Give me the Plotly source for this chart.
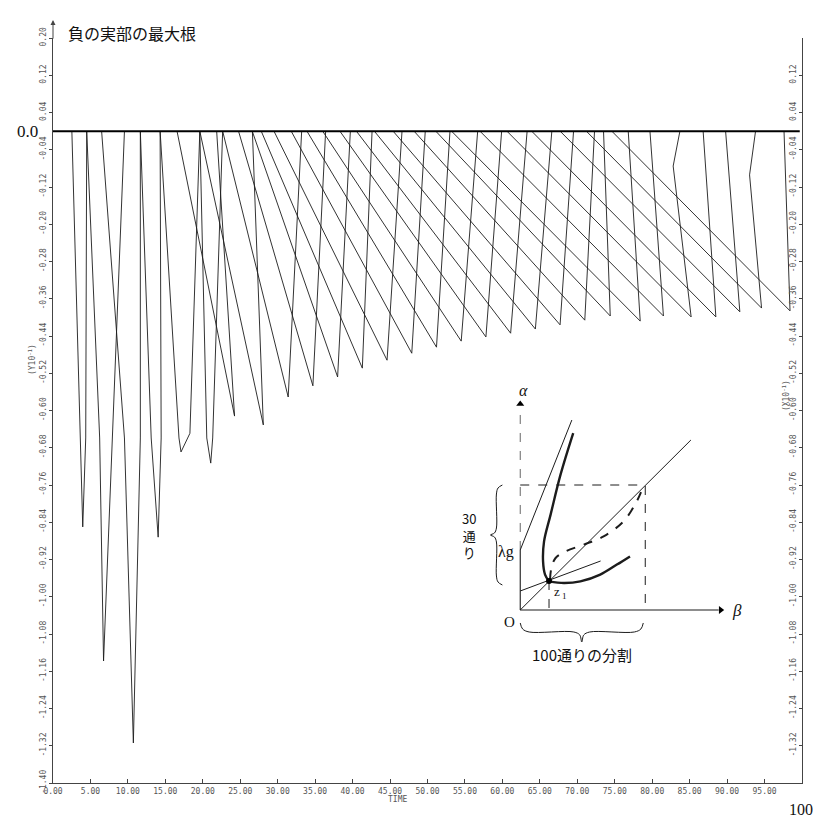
import plotly.graph_objects as go

# ---------------- data ----------------
# each tooth: start on the 0-line, optional knee, minimum, optional knee, end on the 0-line
tooth_start_x = [2.52, 4.50, 6.49, 11.66, 14.30, 19.60, 16.56, 19.60, 22.65, 24.77,
                 26.6, 27.8, 29.5, 31.8, 33.9, 36.0, 38.3, 40.5, 42.9, 45.4,
                 48.2, 51.1, 53.2, 57.0, 60.6, 63.9, 67.7, 71.2, 74.6]
desc_knee_x = [3.71, 6.23, 9.54, 13.11, 16.82, 20.53, None, None, None, None,
               None, None, None, None, None, None, None, None, None, None,
               None, None, None, None, None, None, None, None, None]
desc_knee_y = [-0.659, -0.659, -0.659, -0.659, -0.659, -0.659, None, None, None, None,
               None, None, None, None, None, None, None, None, None, None,
               None, None, None, None, None, None, None, None, None]
tooth_min_x = [3.97, 6.75, 10.73, 14.04, 17.09, 21.06, 24.24, 28.08, 31.4, 34.7,
               38.0, 41.3, 44.6, 47.9, 51.2, 54.5, 57.8, 61.1, 64.4, 67.7,
               71.0, 74.4, 78.4, 81.5, 85.2, 88.5, 91.7, 94.6, 98.4]
tooth_min_y = [-0.850, -1.138, -1.314, -0.872, -0.689, -0.713, -0.612, -0.631, -0.571, -0.547,
               -0.528, -0.509, -0.492, -0.477, -0.464, -0.451, -0.442, -0.434, -0.425, -0.416,
               -0.406, -0.397, -0.408, -0.397, -0.399, -0.399, -0.388, -0.380, -0.386]
asc_knee_x = [4.37, 7.95, 11.66, 14.44, 18.28, 21.32, None, None, None, None,
              None, None, None, None, None, None, None, None, None, None,
              None, None, None, None, 82.8, None, None, 93.0, None]
asc_knee_y = [-0.659, -0.659, -0.659, -0.659, -0.649, -0.659, None, None, None, None,
              None, None, None, None, None, None, None, None, None, None,
              None, None, None, None, -0.075, None, None, -0.094, None]
tooth_end_x = [4.50, 9.54, 11.66, 14.30, 19.60, 22.65, 21.85, 26.62, 33.2, 36.4,
               39.7, 42.6, 46.6, 49.7, 53.0, 56.7, 59.9, 63.3, 66.6, 69.5,
               72.3, 73.5, 76.8, 79.7, 83.7, 86.8, 89.8, 93.8, 97.6]

baseline_x = [0.0, 99.7]
baseline_y = [0.0, 0.0]

x_tick_vals = [0, 5, 10, 15, 20, 25, 30, 35, 40, 45, 50, 55, 60, 65, 70, 75, 80, 85, 90, 95, 100]
x_tick_text = ["0.00", "5.00", "10.00", "15.00", "20.00", "25.00", "30.00", "35.00", "40.00",
               "45.00", "50.00", "55.00", "60.00", "65.00", "70.00", "75.00", "80.00", "85.00",
               "90.00", "95.00", "100.00"]
y_tick_vals = [0.20, 0.12, 0.04, -0.04, -0.12, -0.20, -0.28, -0.36, -0.44, -0.52, -0.60,
               -0.68, -0.76, -0.84, -0.92, -1.00, -1.08, -1.16, -1.24, -1.32, -1.40]
y_tick_text = ["0.20", "0.12", "0.04", "-0.04", "-0.12", "-0.20", "-0.28", "-0.36", "-0.44",
               "-0.52", "-0.60", "-0.68", "-0.76", "-0.84", "-0.92", "-1.00", "-1.08", "-1.16",
               "-1.24", "-1.32", "-1.40"]

# inset diagram (its own coordinates, origin O at (0,0))
alpha_axis_x = [0, 0]
alpha_axis_y = [3.0, 10.2]
alpha_low_x = [0, 0]
alpha_low_y = [0, 3.0]
beta_axis_x = [0, 10.0]
beta_axis_y = [0, 0]
lam_line_x = [0, 2.6]
lam_line_y = [3.0, 9.5]
diag_line_x = [0, 8.6]
diag_line_y = [0, 8.5]
low_line_x = [0, 4.05]
low_line_y = [0.95, 2.45]
upper_curve_x = [2.67, 2.03, 1.53, 1.20, 1.15, 1.25, 1.45]
upper_curve_y = [8.85, 6.77, 4.77, 3.43, 2.43, 1.77, 1.43]
lower_curve_x = [1.45, 2.20, 3.03, 4.03, 4.87, 5.53]
lower_curve_y = [1.43, 1.35, 1.43, 1.77, 2.27, 2.68]
dashed_curve_x = [1.50, 1.57, 1.78, 2.28, 3.20, 4.20, 5.20, 5.87, 6.20]
dashed_curve_y = [1.52, 2.10, 2.60, 2.93, 3.27, 3.68, 4.43, 5.43, 6.18]
box_x = [0, 6.3, 6.3]
box_y = [6.25, 6.25, 0]
z1_drop_x = [1.45, 1.45]
z1_drop_y = [1.45, 0]
z1_x = [1.45]
z1_y = [1.45]
brace_left_x = [-0.9, -1.12, -1.2, -1.2, -1.3, -1.5, -1.3, -1.2, -1.2, -1.12, -0.9]
brace_left_y = [6.25, 6.1, 5.8, 4.1, 3.85, 3.75, 3.65, 3.4, 1.7, 1.4, 1.25]
brace_bottom_x = [0, 0.12, 0.45, 2.7, 3.0, 3.1, 3.2, 3.5, 5.75, 6.08, 6.2]
brace_bottom_y = [-0.65, -0.95, -1.1, -1.1, -1.25, -1.6, -1.25, -1.1, -1.1, -0.95, -0.65]

# ---------------- build the figure ----------------
tx, ty = [], []
for i in range(len(tooth_start_x)):
    px_, py_ = [tooth_start_x[i]], [0.0]
    if desc_knee_x[i] is not None:
        px_.append(desc_knee_x[i]); py_.append(desc_knee_y[i])
    px_.append(tooth_min_x[i]); py_.append(tooth_min_y[i])
    if asc_knee_x[i] is not None:
        px_.append(asc_knee_x[i]); py_.append(asc_knee_y[i])
    px_.append(tooth_end_x[i]); py_.append(0.0)
    tx += px_ + [None]
    ty += py_ + [None]

INK = "#1c1c1c"
fig = go.Figure()
fig.add_trace(go.Scatter(x=tx, y=ty, mode="lines", line=dict(color=INK, width=0.9),
                         hoverinfo="skip", showlegend=False))
fig.add_trace(go.Scatter(x=baseline_x, y=baseline_y, mode="lines", yaxis="y2",
                         line=dict(color="#000", width=2), hoverinfo="skip", showlegend=False))

def inset(x, y, width=1.0, dash="solid", shape="linear", color=INK):
    fig.add_trace(go.Scatter(x=x, y=y, xaxis="x2", yaxis="y3", mode="lines",
                             line=dict(color=color, width=width, dash=dash, shape=shape),
                             hoverinfo="skip", showlegend=False))

inset(alpha_axis_x, alpha_axis_y, 0.9, "dash", color="#555")
inset(alpha_low_x, alpha_low_y, 1.1)
inset(beta_axis_x, beta_axis_y, 1.1)
inset(lam_line_x, lam_line_y, 1.0)
inset(diag_line_x, diag_line_y, 1.0)
inset(low_line_x, low_line_y, 1.0)
inset(upper_curve_x, upper_curve_y, 2.4, shape="spline")
inset(lower_curve_x, lower_curve_y, 2.4, shape="spline")
inset(dashed_curve_x, dashed_curve_y, 2.0, "dash", shape="spline")
inset(box_x, box_y, 1.0, "dash")
inset(z1_drop_x, z1_drop_y, 1.0, "dash")
inset(brace_left_x, brace_left_y, 1.0, shape="spline")
inset(brace_bottom_x, brace_bottom_y, 1.0, shape="spline")
fig.add_trace(go.Scatter(x=z1_x, y=z1_y, xaxis="x2", yaxis="y3", mode="markers",
                         marker=dict(color="#000", size=6), hoverinfo="skip", showlegend=False))
fig.add_trace(go.Scatter(x=[0, 10.1], y=[10.3, 0], xaxis="x2", yaxis="y3", mode="markers",
                         marker=dict(color="#000", size=7, symbol=["triangle-up", "triangle-right"]),
                         hoverinfo="skip", showlegend=False))

tickfont = dict(family="DejaVu Sans Mono", size=8, color="#555")
fig.update_layout(
    width=821, height=818,
    margin=dict(l=45, r=21, t=30, b=43),
    paper_bgcolor="white", plot_bgcolor="white",
    xaxis=dict(range=[0, 100], tickvals=x_tick_vals, ticktext=x_tick_text, ticks="inside",
               ticklen=4, tickcolor="#444", showline=True, linecolor="#444", linewidth=1,
               showgrid=False, zeroline=False, tickfont=tickfont),
    yaxis=dict(range=[-1.40, 0.20], tickvals=y_tick_vals, ticktext=y_tick_text, tickangle=-90,
               ticks="outside", ticklen=3, tickcolor="#444", showline=True, linecolor="#444",
               linewidth=1, showgrid=False, zeroline=False, tickfont=tickfont),
    yaxis2=dict(range=[-1.40, 0.20], overlaying="y", side="right", tickvals=y_tick_vals,
                ticktext=y_tick_text, tickangle=-90, ticks="inside", ticklen=3, tickcolor="#444",
                ticklabelposition="inside", showline=True, linecolor="#444", linewidth=1,
                showgrid=False, zeroline=False, tickfont=tickfont),
    xaxis2=dict(domain=[0.5311, 0.9285], anchor="y3", range=[-3.5, 11.5], visible=False),
    yaxis3=dict(domain=[0.1517, 0.5409], anchor="x2", range=[-3, 11.5], visible=False),
)

serif = "Liberation Serif"
cjk = "Noto Sans CJK JP"
ann = [
    dict(text="負の実部の最大根", xref="paper", yref="paper", x=0.0172, y=1.0067,
         xanchor="left", yanchor="middle", showarrow=False, font=dict(family=cjk, size=16, color="#111")),
    dict(text="0.0", xref="paper", yref="y", x=-0.034, y=0.0, xanchor="center", yanchor="middle",
         showarrow=False, font=dict(family=serif, size=17, color="#111")),
    dict(text="100", xref="paper", yref="paper", x=0.998, y=-0.036, xanchor="center",
         yanchor="middle", showarrow=False, font=dict(family=serif, size=16, color="#111")),
    dict(text="TIME", xref="paper", yref="paper", x=0.4596, y=-0.0215, xanchor="center",
         yanchor="middle", showarrow=False, font=tickfont),
    dict(text="(Y10<sup>-1</sup>)", xref="paper", yref="paper", x=-0.028, y=0.5678, textangle=-90,
         xanchor="center", yanchor="middle", showarrow=False, font=tickfont),
    dict(text="(X10<sup>-1</sup>)", xref="paper", yref="paper", x=0.978, y=0.52, textangle=-90,
         xanchor="center", yanchor="middle", showarrow=False, font=tickfont),
    dict(text="", xref="paper", yref="paper", x=0.0, y=1.024, ax=0, ay=20, showarrow=True,
         arrowhead=2, arrowsize=1, arrowwidth=1, arrowcolor="#444"),
    dict(text="<i>α</i>", xref="x2", yref="y3", x=0.15, y=11.0, showarrow=False,
         font=dict(family=serif, size=16, color="#111")),
    dict(text="<i>β</i>", xref="x2", yref="y3", x=10.9, y=-0.05, showarrow=False,
         font=dict(family=serif, size=17, color="#111")),
    dict(text="O", xref="x2", yref="y3", x=-0.55, y=-0.6, showarrow=False,
         font=dict(family=serif, size=15, color="#111")),
    dict(text="λg", xref="x2", yref="y3", x=-0.7, y=2.9, showarrow=False,
         font=dict(family=serif, size=16, color="#111")),
    dict(text="z<sub> 1</sub>", xref="x2", yref="y3", x=2.05, y=0.85, showarrow=False,
         font=dict(family=serif, size=13, color="#111")),
    dict(text="30<br>通<br>り", xref="x2", yref="y3", x=-2.6, y=3.75, showarrow=False,
         align="center", font=dict(family=cjk, size=13, color="#111")),
    dict(text="100通りの分割", xref="x2", yref="y3", x=3.1, y=-2.25, showarrow=False,
         font=dict(family=cjk, size=15, color="#111")),
]
fig.update_layout(annotations=ann)

fig.write_html("out.html")
